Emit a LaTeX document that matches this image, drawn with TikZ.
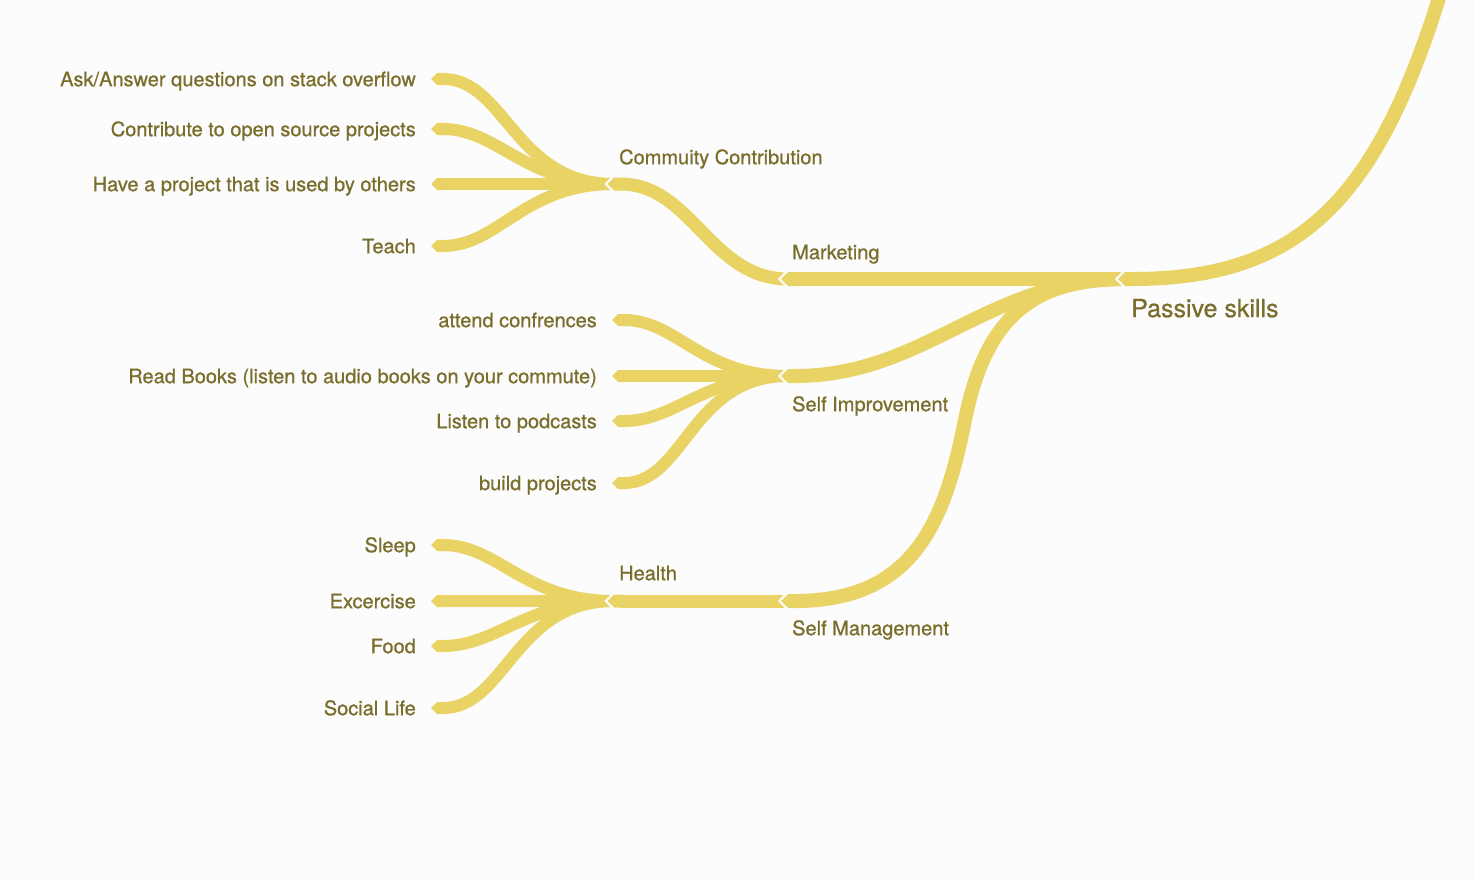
\documentclass[tikz,border=0pt]{standalone}
\usepackage{fontspec}
\setmainfont{TeX Gyre Heros}[FakeBold=0.8]
\usepackage{tikz}
\usetikzlibrary{arrows.meta,positioning}
\definecolor{paper}{RGB}{252,252,252}
\definecolor{branch}{RGB}{233,211,100}
\definecolor{skilltext}{RGB}{122,110,44}
\tikzstyle{skill} = [text=skilltext, font=\fontsize{20}{24}\selectfont, inner xsep=15pt, inner ysep=0pt, text height=14.4pt, text depth=0pt, anchor=east]
\tikzstyle{topic} = [text=skilltext, font=\fontsize{20}{24}\selectfont, inner sep=0pt, text height=14.4pt, text depth=0pt]
\tikzstyle{leaf link} = [draw=branch, line width=12pt, -{Triangle Cap}]
\tikzstyle{sub link} = [draw=branch, line width=13pt, shorten >=-6.5pt, -{Triangle Cap}]
\tikzstyle{main link} = [draw=branch, line width=14pt, shorten >=-7pt, -{Triangle Cap}]
\tikzstyle{gap} = [draw=paper, line width=2.2pt]

\begin{document}
\begin{tikzpicture}[x=1pt,y=-1pt]
  \path[use as bounding box, fill=paper] (0,0) rectangle (1474,880);
  \clip (0,0) rectangle (1474,880);
  % Junctions
  \coordinate (top) at (1443,-15);
  \coordinate (ps) at (1125,279);
  \coordinate (mk) at (788,279);
  \coordinate (cc) at (614,184);
  \coordinate (si) at (788,376);
  \coordinate (sm) at (788,601);
  \coordinate (smbend) at (965,420);
  \coordinate (he) at (614,601);
  % Topics
  \node[topic, font=\fontsize{25}{30}\selectfont, text height=17.9pt, below right=20pt and 6pt of ps] (pstext) {Passive skills};
  \node[topic, above right=19.6pt and 4pt of mk] (mktext) {Marketing};
  \node[topic, above right=19.6pt and 5pt of cc] (cctext) {Commuity Contribution};
  \node[topic, below right=20.6pt and 4pt of si] (sitext) {Self Improvement};
  \node[topic, below right=19.6pt and 4pt of sm] (smtext) {Self Management};
  \node[topic, above right=20.6pt and 5pt of he] (hetext) {Health};
  % Skills
  \node[skill] (ask) at (431,79) {Ask/Answer questions on stack overflow};
  \node[skill] (oss) at (431,129) {Contribute to open source projects};
  \node[skill] (used) at (431,184) {Have a project that is used by others};
  \node[skill] (teach) at (431,246) {Teach};
  \node[skill] (conf) at (612,320) {attend confrences};
  \node[skill] (books) at (612,376) {Read Books (listen to audio books on your commute)};
  \node[skill] (pods) at (612,421) {Listen to podcasts};
  \node[skill] (build) at (612,483) {build projects};
  \node[skill] (sleep) at (431,545) {Sleep};
  \node[skill] (sport) at (431,601) {Excercise};
  \node[skill] (food) at (431,646) {Food};
  \node[skill] (social) at (431,708) {Social Life};
  % Leaves
  \foreach \s in {ask,oss,used,teach}{
    \draw[leaf link] (cc) to[out=180,in=0,out looseness=1.2,in looseness=0.9] (\s.east);
  }
  \foreach \s in {conf,books,pods,build}{
    \draw[leaf link] (si) to[out=180,in=0,out looseness=1.2,in looseness=0.9] (\s.east);
  }
  \foreach \s in {sleep,sport,food,social}{
    \draw[leaf link] (he) to[out=180,in=0,out looseness=1.2,in looseness=0.9] (\s.east);
  }
  % Branches
  \draw[sub link] (mk) to[out=180,in=0] (cc);
  \draw[sub link] (sm) -- (he);
  \draw[main link] (ps) -- (mk);
  \draw[main link] (ps) to[out=180,in=0] (si);
  \draw[main link] (ps) .. controls +(-95,0) and +(20,-100) .. (smbend) .. controls +(-20,100) and +(127,0) .. (sm);
  \draw[main link] (top) .. controls +(-65,215) and +(175,0) .. (ps);
  % Notches
  \foreach \j/\w in {ps/14,mk/14,si/14,sm/14,cc/13,he/13}{
    \draw[gap] (\j) ++(-0.6,{-\w/2-1}) -- ++({-\w/2-1},{\w/2+1}) -- ++({\w/2+1},{\w/2+1});
  }
\end{tikzpicture}
\end{document}
